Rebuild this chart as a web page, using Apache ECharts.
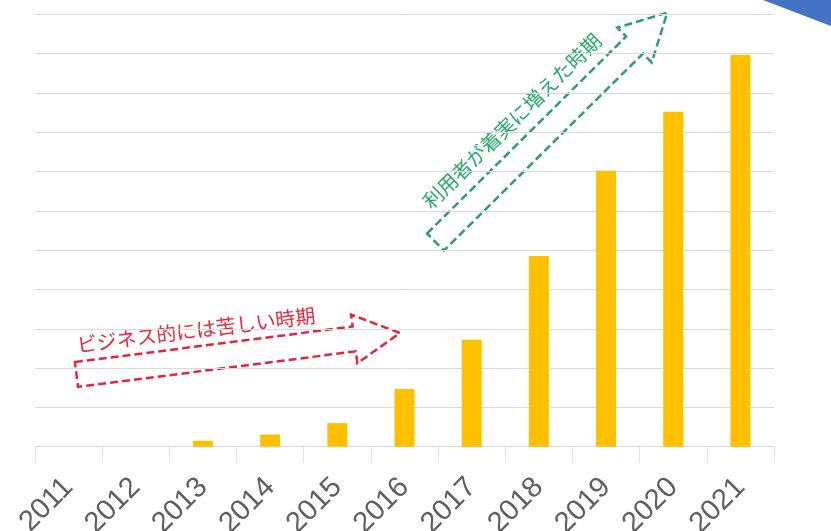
<!DOCTYPE html>
<html>
<head>
<meta charset="utf-8">
<script src="https://cdn.jsdelivr.net/npm/echarts@6/dist/echarts.min.js"></script>
<style>
html,body{margin:0;padding:0;background:#fff;}
#chart{width:831px;height:531px;}
</style>
</head>
<body>
<div id="chart"></div>
<script>
const years = ['2011','2012','2013','2014','2015','2016','2017','2018','2019','2020','2021'];
const users = [0, 0, 0.15, 0.31, 0.6, 1.47, 2.72, 4.85, 7.02, 8.52, 9.97];
const redLabel = 'ビジネス的には苦しい時期';
const greenLabel = '利用者が着実に増えた時期';

const chart = echarts.init(document.getElementById('chart'), null, {renderer: 'canvas'});

function arrowPoints(L, sw, hw, hl) {
  return [[0,-sw],[L-hl,-sw],[L-hl,-hw],[L,0],[L-hl,hw],[L-hl,sw],[0,sw]];
}
const deg = Math.PI / 180;

const option = {
  backgroundColor: '#ffffff',
  animation: false,
  grid: {left: 35, right: 57, top: 14.4, bottom: 84.3, containLabel: false, outerBoundsMode: 'none'},
  xAxis: {
    type: 'category',
    data: years,
    axisLine: {show: true, lineStyle: {color: '#D9D9D9', width: 1}},
    axisTick: {show: true, length: 16, lineStyle: {color: '#E3E3E3'}},
    axisLabel: {rotate: 45, color: '#5E5E5E', fontSize: 29, fontFamily: 'Liberation Sans, Arial, sans-serif', margin: 36}
  },
  yAxis: {
    type: 'value', min: 0, max: 11, interval: 1,
    axisLine: {show: false}, axisTick: {show: false}, axisLabel: {show: false},
    splitLine: {lineStyle: {color: '#D9D9D9', width: 1}}
  },
  series: [{
    type: 'bar',
    data: users,
    barWidth: 20,
    itemStyle: {color: '#FFC000'}
  }],
  graphic: [
    {
      type: 'polygon', x: 76.5, y: 374.5, rotation: 7.3 * deg,
      shape: {points: arrowPoints(326, 12.5, 24.5, 46)},
      style: {fill: 'none', stroke: '#E3263E', lineWidth: 2.5, lineDash: [8, 4]}
    },
    {
      type: 'text', x: 196, y: 330, rotation: 7.2 * deg,
      style: {text: redLabel, fill: '#E8283C', font: '20px "Noto Sans CJK JP", sans-serif', align: 'center', verticalAlign: 'middle'}
    },
    {
      type: 'polygon', x: 435.5, y: 242, rotation: 44.7 * deg,
      shape: {points: arrowPoints(326, 12, 24.5, 46)},
      style: {fill: 'none', stroke: '#2E9C6B', lineWidth: 2.5, lineDash: [8, 4]}
    },
    {
      type: 'text', x: 512, y: 121, rotation: 44.3 * deg,
      style: {text: greenLabel, fill: '#27A866', font: '20px "Noto Sans CJK JP", sans-serif', align: 'center', verticalAlign: 'middle'}
    },
    {
      type: 'polygon',
      shape: {points: [[763,0],[831,0],[831,26]]},
      style: {fill: '#4472C4'}
    }
  ]
};
chart.setOption(option);
</script>
</body>
</html>
